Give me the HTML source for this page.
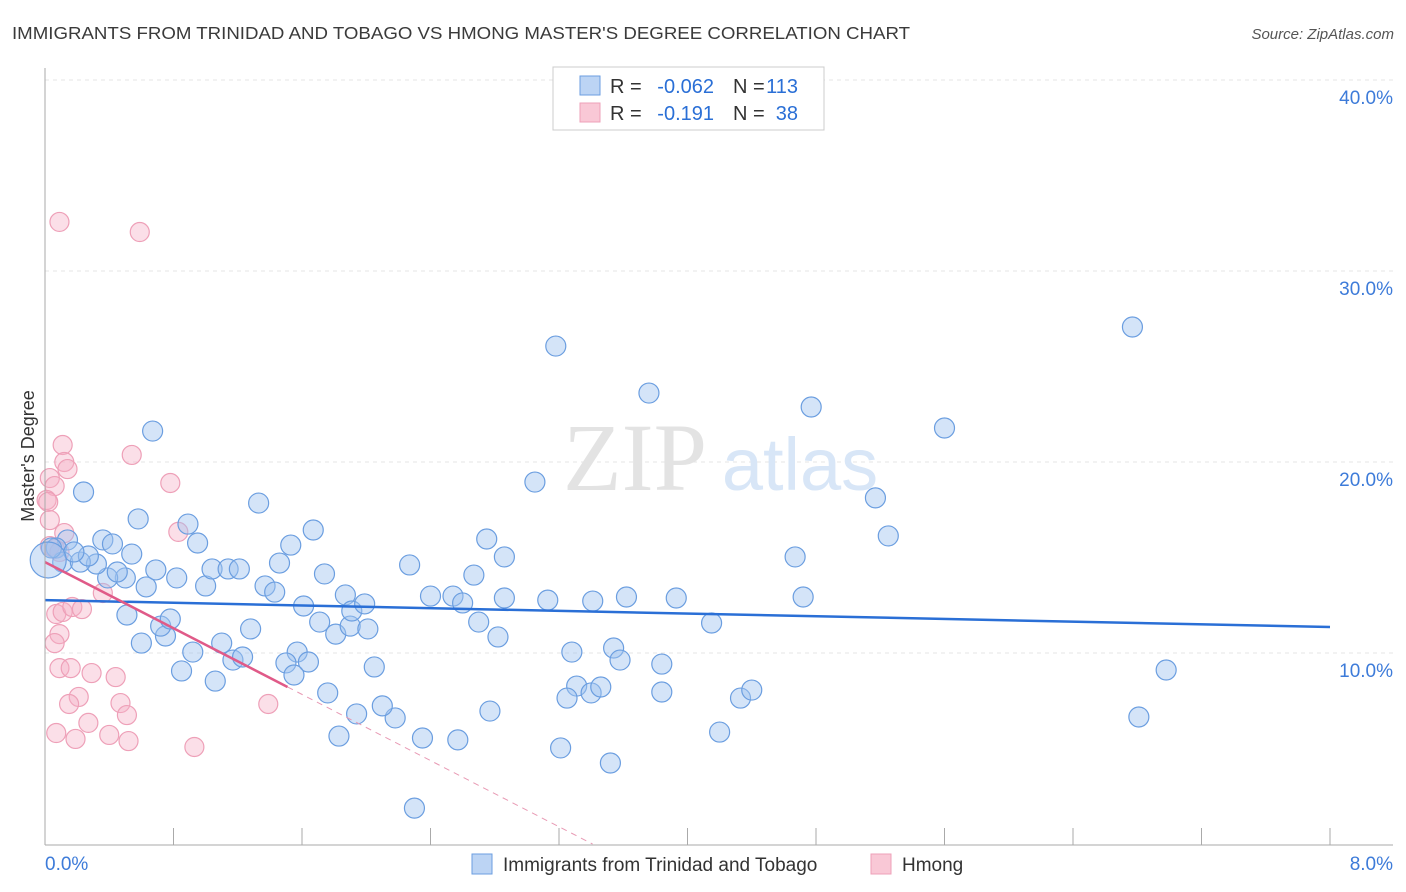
<!DOCTYPE html>
<html><head><meta charset="utf-8">
<style>
body{margin:0;background:#fff;font-family:"Liberation Sans",sans-serif;}
svg{display:block}
</style></head>
<body>
<svg id="chart" width="1406" height="892" viewBox="0 0 1406 892" xmlns="http://www.w3.org/2000/svg">
<text x="12" y="39" font-size="17.5" fill="#3a3a3a" textLength="898" lengthAdjust="spacingAndGlyphs">IMMIGRANTS FROM TRINIDAD AND TOBAGO VS HMONG MASTER'S DEGREE CORRELATION CHART</text>
<text x="1394" y="39" font-size="15" fill="#555" text-anchor="end" font-style="italic">Source: ZipAtlas.com</text>
<g id="grid"></g>
<g>
<text x="635" y="490" font-size="96" fill="#e3e3e3" text-anchor="middle" font-family="Liberation Serif,serif">ZIP</text>
<text x="800" y="490" font-size="74" fill="#d8e6f7" text-anchor="middle">atlas</text>
</g>
<g id="marks"></g>
<g id="axes"></g>
<text transform="translate(34,456) rotate(-90)" font-size="18" fill="#333" text-anchor="middle">Master's Degree</text>
<g font-size="20">
<rect x="553" y="67" width="271" height="63" fill="#fff" stroke="#ccc"/>
<rect x="580" y="76" width="20" height="19" fill="#bcd4f4" stroke="#6b9ee0"/>
<rect x="580" y="103" width="20" height="19" fill="#f9c8d6" stroke="#eea0b8"/>
<text x="610" y="93" fill="#333">R =</text>
<text x="714" y="93" fill="#2a6fd6" text-anchor="end">-0.062</text>
<text x="733" y="93" fill="#333">N =</text>
<text x="798" y="93" fill="#2a6fd6" text-anchor="end">113</text>
<text x="610" y="120" fill="#333">R =</text>
<text x="714" y="120" fill="#2a6fd6" text-anchor="end">-0.191</text>
<text x="733" y="120" fill="#333">N =</text>
<text x="798" y="120" fill="#2a6fd6" text-anchor="end">38</text>
</g>
<g>
<rect x="472" y="854" width="20" height="20" fill="#bcd4f4" stroke="#6b9ee0"/>
<text x="503" y="871" font-size="19" fill="#333">Immigrants from Trinidad and Tobago</text>
<rect x="871" y="854" width="20" height="20" fill="#f9c8d6" stroke="#eea0b8"/>
<text x="902" y="871" font-size="19" fill="#333">Hmong</text>
</g>
</svg>
<script>
const yTicks=[10,20,30,40];
const yTickLabels=["10.0%","20.0%","30.0%","40.0%"];
const xTickLabels=["0.0%","8.0%"];
const blueX=[0.67,0.24,0.58,1.33,0.89,0.95,1.67,1.53,2.75,2.86,2.27,2.67,3.05,3.18,3.76,4.77,5.60,6.77,5.17,5.25,4.67,4.72,4.15,3.84,3.84,3.54,3.58,3.28,3.31,3.25,3.40,3.46,3.21,3.52,4.33,4.40,4.20,6.98,6.81,2.30,2.77,2.57,2.35,2.18,2.10,1.94,1.76,1.83,2.05,1.57,1.64,1.50,1.55,1.28,1.10,1.17,1.23,1.06,0.92,0.85,0.75,0.72,0.78,0.51,0.60,0.63,0.50,0.39,0.45,0.32,0.36,0.42,0.54,0.14,0.07,0.11,0.22,0.27,0.18,0.04,0.82,0.69,1.00,1.04,1.14,1.21,1.37,1.43,1.46,1.74,1.61,1.71,1.81,1.87,1.90,1.91,1.99,2.01,2.40,2.54,2.60,2.70,2.82,2.86,3.13,3.41,3.62,3.93,0.02];
const blueY=[21.62,18.43,17.02,17.85,16.75,15.76,16.44,15.65,15.97,15.03,14.61,14.08,18.95,26.07,23.61,22.88,21.78,27.07,18.12,16.13,15.03,12.93,11.57,9.42,7.96,10.26,9.63,10.05,8.27,7.64,7.91,8.22,5.03,4.24,7.64,8.06,5.86,9.11,6.65,1.88,6.96,5.45,5.55,6.60,7.23,6.81,7.91,5.65,9.27,10.05,9.53,9.48,8.85,11.26,10.52,9.63,9.79,8.53,10.05,9.06,10.89,11.41,11.78,11.99,10.52,13.46,13.93,13.93,14.24,14.66,15.92,15.71,15.18,15.92,15.50,14.76,14.76,15.08,15.29,15.50,13.93,14.35,13.51,14.40,14.40,14.40,13.51,13.19,14.71,14.14,12.46,11.62,10.99,13.04,11.41,12.20,12.57,11.26,12.98,12.98,12.62,11.62,10.84,12.88,12.77,12.72,12.93,12.88,14.87];
const pinkX=[0.09,0.59,0.11,0.54,0.12,0.14,0.78,0.03,0.06,0.01,0.02,0.03,0.12,0.83,0.03,0.06,0.09,0.36,0.07,0.11,0.17,0.23,0.09,0.06,0.09,0.16,0.29,0.44,0.21,0.15,0.47,0.51,0.27,0.07,0.19,0.40,0.52,0.93,1.39];
const pinkY=[32.57,32.04,20.89,20.37,20.0,19.63,18.90,19.16,18.74,18.01,17.91,16.96,16.28,16.34,15.60,15.45,15.29,13.14,12.04,12.15,12.41,12.30,10.99,10.52,9.21,9.21,8.95,8.74,7.70,7.33,7.38,6.75,6.34,5.81,5.50,5.71,5.39,5.08,7.33];
const blueTrend=[12.77,11.36];
const pinkTrend=[14.76,-4.33];
const NS="http://www.w3.org/2000/svg";
const X=v=>45+v/8*1285, Y=v=>844-v*19.1;
function mk(t,a,p){const e=document.createElementNS(NS,t);for(const k in a)e.setAttribute(k,a[k]);p.appendChild(e);return e;}
const grid=document.getElementById('grid'),axes=document.getElementById('axes'),marks=document.getElementById('marks');
yTicks.forEach((t,i)=>{
 const l=mk('line',{x1:45,x2:1393,y1:Y(t),y2:Y(t),stroke:'#e4e4e4','stroke-dasharray':'4 4'},grid);
 
 
 const tx=mk('text',{x:1393,y:Y(t)+24,'font-size':19,fill:'#3d7bd9','text-anchor':'end'},axes);
 tx.textContent=yTickLabels[i];
 
 
});
mk('line',{x1:45,x2:45,y1:68,y2:845,stroke:'#aaa'},axes);
mk('line',{x1:45,x2:1393,y1:845,y2:845,stroke:'#aaa'},axes);
for(let i=0;i<=10;i++){mk('line',{x1:X(i*0.8),x2:X(i*0.8),y1:828,y2:845,stroke:'#aaa'},axes);}
const xl0=mk('text',{x:45,y:870,'font-size':19,fill:'#3d7bd9'},axes);xl0.textContent=xTickLabels[0];


const xl1=mk('text',{x:1393,y:870,'font-size':19,fill:'#3d7bd9','text-anchor':'end'},axes);xl1.textContent=xTickLabels[1];


pinkX.forEach((v,i)=>{
 const c=mk('circle',{cx:X(v),cy:Y(pinkY[i]),r:9.5,fill:'rgba(245,175,198,0.4)',stroke:'#eea0b8','stroke-width':1.2},marks);
 
 
});
blueX.forEach((v,i)=>{
 const big=i===blueX.length-1;
 const c=mk('circle',{cx:X(v),cy:Y(blueY[i]),r:big?18:10,fill:'rgba(160,195,240,0.45)',stroke:'#6b9ee0','stroke-width':1.2},marks);
 
 
});
const bt=mk('line',{x1:X(0),y1:Y(blueTrend[0]),x2:X(8),y2:Y(blueTrend[1]),stroke:'#2a6fd6','stroke-width':2.5},marks);


const pEnd=1.51, pZero=-pinkTrend[0]/pinkTrend[1];
const pt=mk('line',{x1:X(0),y1:Y(pinkTrend[0]),x2:X(pEnd),y2:Y(pinkTrend[0]+pinkTrend[1]*pEnd),stroke:'#e05a88','stroke-width':2.5},marks);


const pd=mk('line',{x1:X(pEnd),y1:Y(pinkTrend[0]+pinkTrend[1]*pEnd),x2:X(pZero),y2:Y(0),stroke:'#e89ab4','stroke-width':1,'stroke-dasharray':'6 5'},marks);


</script>
</body></html>
